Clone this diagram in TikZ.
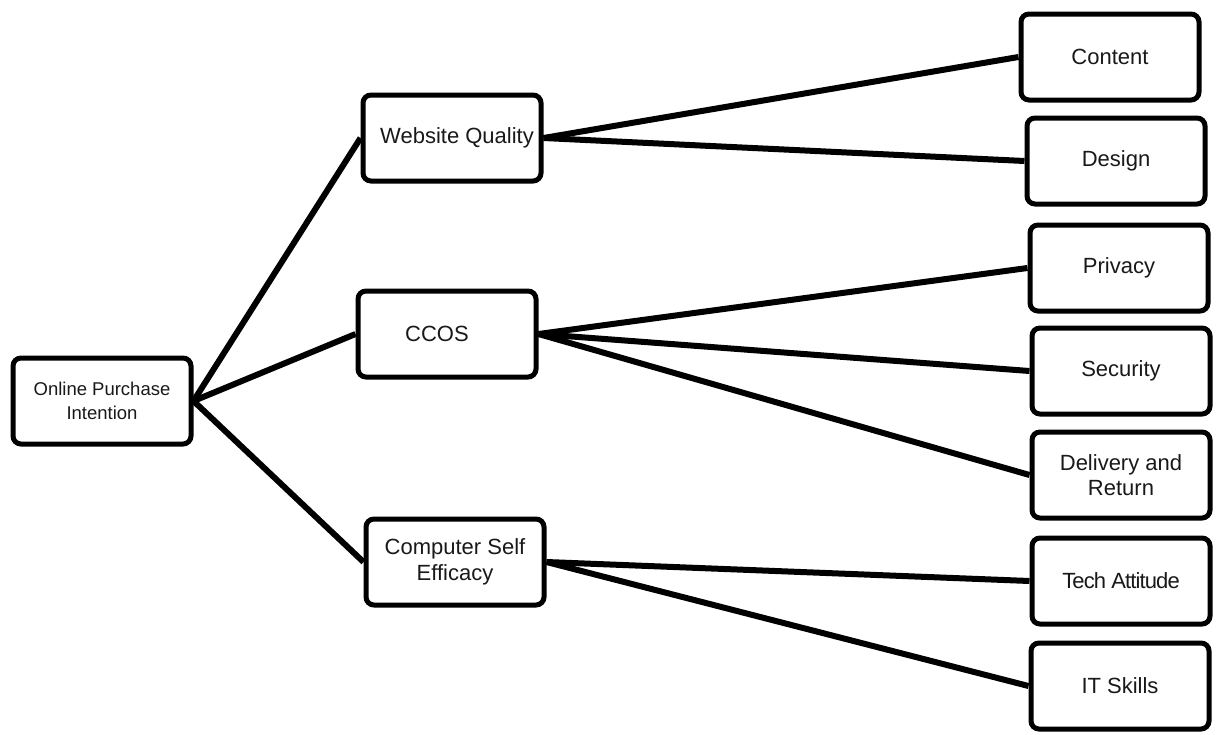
\documentclass[tikz,border=0pt]{standalone}
\usepackage{fontspec}
\setmainfont{Liberation Sans}
\begin{document}
\begin{tikzpicture}[x=1pt,y=-1pt,
  box/.style={draw=black,line width=5pt,rounded corners=8pt,fill=white,minimum width=178pt,minimum height=86pt,inner sep=0pt,align=center,font=\fontsize{22}{25.5}\selectfont,text=black!90},
  small/.style={font=\fontsize{18.5}{23.5}\selectfont},
  link/.style={line width=6pt,black}]
\useasboundingbox (0,0) rectangle (1216,734);
\node[box,small] (opi) at (102,401) {Online Purchase\\Intention};
\node[box] (wq) at (452,138) {\hspace*{10pt}Website Quality};
\node[box] (ccos) at (447,334) {CCOS\hspace*{20pt}};
\node[box] (cse) at (455,562) {Computer Self\\Efficacy};
\node[box] (content) at (1110,57) {Content};
\node[box] (design) at (1116,161) {Design};
\node[box] (privacy) at (1119,268) {Privacy};
\node[box] (security) at (1121,371) {Security};
\node[box] (delivery) at (1121,475) {Delivery and\\Return};
\node[box] (tech) at (1121,581) {\addfontfeature{LetterSpace=-4}Tech Attitude};
\node[box] (it) at (1120,686) {IT Skills};
\draw[link] (opi.east) -- (wq.west);
\draw[link] (opi.east) -- (ccos.west);
\draw[link] (opi.east) -- (cse.west);
\draw[link] (wq.east) -- (content.west);
\draw[link] (wq.east) -- (design.west);
\draw[link] (ccos.east) -- (privacy.west);
\draw[link] (ccos.east) -- (security.west);
\draw[link] (ccos.east) -- (delivery.west);
\draw[link] (cse.east) -- (tech.west);
\draw[link] (cse.east) -- (it.west);
\end{tikzpicture}
\end{document}
